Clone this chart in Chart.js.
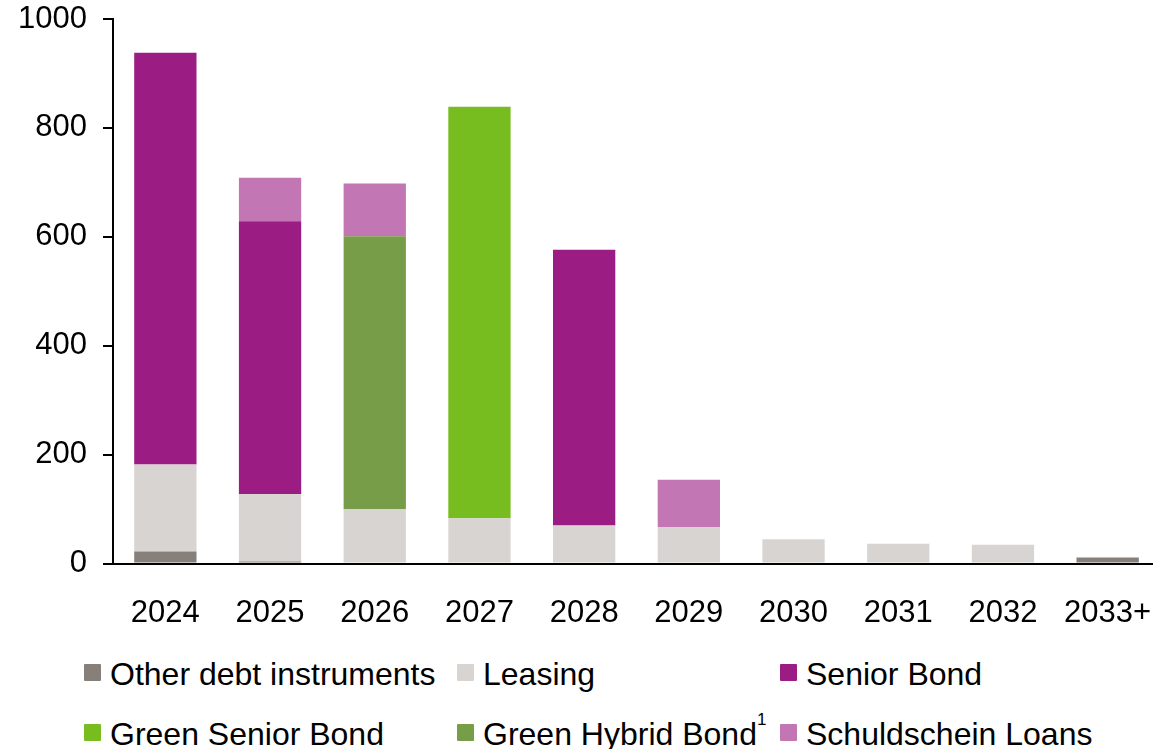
<!DOCTYPE html>
<html>
<head>
<meta charset="utf-8">
<script src="https://cdn.jsdelivr.net/npm/chart.js@4/dist/chart.umd.min.js"></script>
<style>
  html, body { margin: 0; padding: 0; background: #fff; overflow: hidden; }
  #wrap { position: relative; width: 1153px; height: 749px; overflow: hidden; font-family: "Liberation Sans", Arial, sans-serif; }
  #c { position: absolute; left: 0; top: 0; }
  .lg-box { position: absolute; width: 17px; height: 17px; border-radius: 1px; }
  .lg-text { position: absolute; font-size: 32px; line-height: 32px; color: #000; white-space: nowrap; }
  .lg-text sup { font-size: 17px; line-height: 1; position: relative; top: -7px; vertical-align: top; margin-left: 0; }
</style>
</head>
<body>
<div id="wrap">
  <canvas id="c" width="1160" height="650"></canvas>
  <div id="legend"></div>
</div>
<script>
// Maturity profile by year (EUR m)
const years = ['2024', '2025', '2026', '2027', '2028', '2029', '2030', '2031', '2032', '2033+'];

const otherDebt     = [22, 3.5, 0, 0, 0, 0, 0, 0, 0, 11];
const leasing       = [160, 124, 100, 83, 70, 67, 44.5, 36.5, 34.5, 0];
const seniorBond    = [756, 501, 0, 0, 506, 0, 0, 0, 0, 0];
const greenSenior   = [0, 0, 0, 756, 0, 0, 0, 0, 0, 0];
const greenHybrid   = [0, 0, 501, 0, 0, 0, 0, 0, 0, 0];
const schuldschein  = [0, 80, 97, 0, 0, 87, 0, 0, 0, 0];

const yTicks = [0, 200, 400, 600, 800, 1000];

const seriesNames  = ['Other debt instruments', 'Leasing', 'Senior Bond', 'Green Senior Bond', 'Green Hybrid Bond', 'Schuldschein Loans'];
const seriesData   = [otherDebt, leasing, seniorBond, greenSenior, greenHybrid, schuldschein];
const seriesColors = ['#877f79', '#d8d4d1', '#9b1c83', '#78bd1f', '#789d48', '#c277b4'];
const footnotes    = ['', '', '', '', '1', ''];

const FONT = '"Liberation Sans", Arial, sans-serif';

const datasets = seriesNames.map((name, i) => ({
  label: name,
  data: seriesData[i],
  backgroundColor: seriesColors[i],
  borderWidth: 0,
  barPercentage: 0.595,
  categoryPercentage: 1.0,
  stack: 'debt'
}));

new Chart(document.getElementById('c'), {
  type: 'bar',
  data: { labels: years, datasets },
  options: {
    responsive: false,
    animation: false,
    layout: { padding: { top: 19, left: 0, right: 0, bottom: 0 } },
    plugins: { legend: { display: false }, tooltip: { enabled: false } },
    scales: {
      x: {
        stacked: true,
        grid: { display: false, drawTicks: false },
        border: { display: true, color: '#000', width: 2 },
        ticks: { color: '#000', font: { family: FONT, size: 31 }, padding: 31, maxRotation: 0, autoSkip: false },
        afterFit: (s) => { s.height = 650 - 563.5; s.paddingLeft = 0; s.paddingRight = 0; }
      },
      y: {
        stacked: true,
        min: 0,
        max: 1000,
        afterBuildTicks: (s) => { s.ticks = yTicks.map(v => ({ value: v })); },
        grid: { display: true, drawOnChartArea: false, drawTicks: true, tickLength: 10, color: '#000', lineWidth: 2 },
        border: { display: true, color: '#000', width: 2 },
        ticks: { color: '#000', font: { family: FONT, size: 31 }, padding: 16, callback: (v) => String(v) },
        afterFit: (s) => { s.width = 113; s.paddingTop = 0; s.paddingBottom = 0; }
      }
    }
  }
});

// Legend laid out in three columns, two rows
const legendCols = [{ box: 84, text: 110 }, { box: 457, text: 483 }, { box: 780, text: 806 }];
const legendRows = [{ box: 664, text: 658 }, { box: 724, text: 718 }];
const legend = document.getElementById('legend');
seriesNames.forEach((name, i) => {
  const col = legendCols[i % 3];
  const row = legendRows[Math.floor(i / 3)];
  const box = document.createElement('div');
  box.className = 'lg-box';
  box.style.left = col.box + 'px';
  box.style.top = row.box + 'px';
  box.style.background = seriesColors[i];
  legend.appendChild(box);
  const txt = document.createElement('div');
  txt.className = 'lg-text';
  txt.style.left = col.text + 'px';
  txt.style.top = row.text + 'px';
  txt.textContent = name;
  if (footnotes[i]) {
    const sup = document.createElement('sup');
    sup.textContent = footnotes[i];
    txt.appendChild(sup);
  }
  legend.appendChild(txt);
});
</script>
</body>
</html>
